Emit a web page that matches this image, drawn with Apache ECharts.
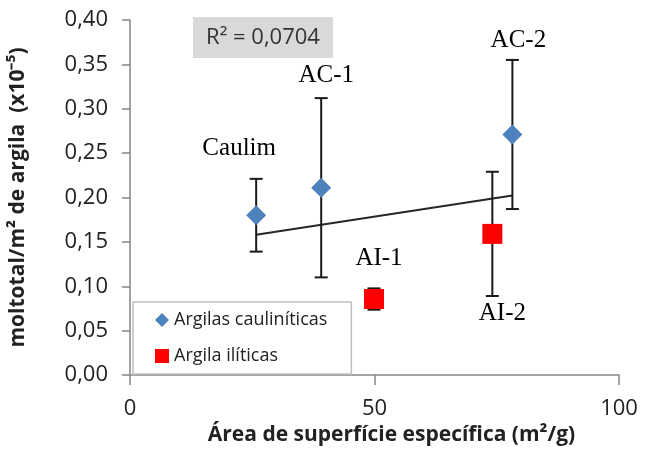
<!DOCTYPE html>
<html>
<head>
<meta charset="utf-8">
<script src="https://cdn.jsdelivr.net/npm/echarts@6/dist/echarts.min.js"></script>
<style>
  html, body { margin: 0; padding: 0; background: #fff; }
  #chart { width: 649px; height: 451px; }
</style>
</head>
<body>
<div id="chart"></div>
<script>
// Kaolinitic clays: surface area (m²/g), adsorbed mol/m² (x10^-5) and its deviation
const kaolNames = ['Caulim', 'AC-1', 'AC-2'];
const kaolArea = [25.8, 39.1, 78.2];
const kaolValue = [0.18, 0.211, 0.271];
const kaolErr = [0.041, 0.101, 0.084];

// Illitic clays
const illiNames = ['AI-1', 'AI-2'];
const illiArea = [49.9, 74.1];
const illiValue = [0.0856, 0.159];
const illiErr = [0.012, 0.07];

// Axis ticks and annotation text
const yTicks = [0, 0.05, 0.10, 0.15, 0.20, 0.25, 0.30, 0.35, 0.40];
const xTicks = [0, 50, 100];
const rSquaredText = 'R² = 0,0704';
const legendNames = ['Argilas cauliníticas', 'Argila ilíticas'];

// Where each point's name sits relative to its marker
const labelOffsets = {
  'Caulim': [-17, -67],
  'AC-1': [5, -112],
  'AC-2': [6, -94],
  'AI-1': [5, -41],
  'AI-2': [10, 80]
};

// Linear trend fitted over every sample
const allX = kaolArea.concat(illiArea);
const allY = kaolValue.concat(illiValue);
const n = allX.length;
const mx = allX.reduce((a, b) => a + b, 0) / n;
const my = allY.reduce((a, b) => a + b, 0) / n;
let sxy = 0, sxx = 0;
for (let i = 0; i < n; i++) {
  sxy += (allX[i] - mx) * (allY[i] - my);
  sxx += (allX[i] - mx) * (allX[i] - mx);
}
const slope = sxy / sxx;
const intercept = my - slope * mx;
const xMin = Math.min.apply(null, allX);
const xMax = Math.max.apply(null, allX);
const trendData = [[xMin, intercept + slope * xMin], [xMax, intercept + slope * xMax]];

function pointData(names, xs, ys) {
  return names.map((nm, i) => ({
    name: nm,
    value: [xs[i], ys[i]],
    label: { offset: labelOffsets[nm] }
  }));
}
function errData(xs, ys, es) {
  return xs.map((x, i) => [x, ys[i] - es[i], ys[i] + es[i]]);
}

function renderErrorBar(params, api) {
  const x = api.value(0);
  const lo = api.coord([x, api.value(1)]);
  const hi = api.coord([x, api.value(2)]);
  const cap = 6.5;
  const style = { stroke: '#1a1a1a', lineWidth: 2 };
  return {
    type: 'group',
    children: [
      { type: 'line', shape: { x1: lo[0], y1: lo[1], x2: hi[0], y2: hi[1] }, style: style },
      { type: 'line', shape: { x1: lo[0] - cap, y1: lo[1], x2: lo[0] + cap, y2: lo[1] }, style: style },
      { type: 'line', shape: { x1: hi[0] - cap, y1: hi[1], x2: hi[0] + cap, y2: hi[1] }, style: style }
    ]
  };
}

const labelStyle = {
  show: true,
  position: 'inside',
  formatter: '{b}',
  fontFamily: 'Liberation Serif',
  fontSize: 25,
  color: '#000'
};

const axisGray = '#868686';
const sansFont = 'Open Sans';

const chart = echarts.init(document.getElementById('chart'));
chart.setOption({
  animation: false,
  backgroundColor: '#fff',
  grid: { left: 128, right: 30, top: 20, height: 360, containLabel: false },
  xAxis: {
    type: 'value',
    min: xTicks[0],
    max: xTicks[xTicks.length - 1],
    interval: xTicks[1] - xTicks[0],
    axisLine: { lineStyle: { color: axisGray, width: 1.5 } },
    axisTick: { show: true, inside: false, length: 10, lineStyle: { color: axisGray, width: 1.5 } },
    splitLine: { show: false },
    axisLabel: { fontFamily: sansFont, fontSize: 22, color: '#222', margin: 23 },
    name: 'Área de superfície específica (m²/g)',
    nameLocation: 'middle',
    nameGap: 50,
    nameTextStyle: { fontFamily: sansFont, fontSize: 21, fontWeight: 'bold', color: '#222', padding: [0, 0, 0, 34] }
  },
  yAxis: {
    type: 'value',
    min: yTicks[0],
    max: yTicks[yTicks.length - 1],
    interval: yTicks[1] - yTicks[0],
    axisLine: { show: true, lineStyle: { color: axisGray, width: 1.5 } },
    axisTick: { show: true, inside: false, length: 8, lineStyle: { color: axisGray, width: 1.5 } },
    splitLine: { show: false },
    axisLabel: {
      fontFamily: sansFont, fontSize: 22, color: '#222', margin: 22,
      formatter: v => v.toFixed(2).replace('.', ',')
    },
    name: 'moltotal/m² de argila  (x10⁻⁵)',
    nameLocation: 'middle',
    nameRotate: 90,
    nameGap: 93,
    nameTextStyle: { fontFamily: sansFont, fontSize: 21, fontWeight: 'bold', color: '#222', padding: [0, 0, 8, 0] }
  },
  legend: {
    orient: 'vertical',
    left: 133,
    top: 302,
    padding: [9, 24, 9, 22],
    itemGap: 18,
    itemWidth: 14,
    itemHeight: 14,
    backgroundColor: '#fff',
    borderColor: '#c0c0c0',
    borderWidth: 1.5,
    textStyle: { fontFamily: sansFont, fontSize: 18, color: '#222' },
    data: [
      { name: legendNames[0], icon: 'diamond' },
      { name: legendNames[1], icon: 'rect' }
    ]
  },
  graphic: [{
    type: 'group',
    left: 193,
    top: 17,
    children: [
      { type: 'rect', shape: { x: 0, y: 0, width: 140, height: 41 }, style: { fill: '#d9d9d9' } },
      {
        type: 'text', x: 70, y: 21,
        style: { text: rSquaredText, fontFamily: sansFont, fontSize: 22, fill: '#333', align: 'center', verticalAlign: 'middle' }
      }
    ]
  }],
  series: [
    {
      type: 'line',
      data: trendData,
      symbol: 'none',
      silent: true,
      lineStyle: { color: '#262626', width: 2 },
      z: 2
    },
    {
      type: 'custom',
      renderItem: renderErrorBar,
      data: errData(kaolArea, kaolValue, kaolErr),
      z: 3
    },
    {
      type: 'custom',
      renderItem: renderErrorBar,
      data: errData(illiArea, illiValue, illiErr),
      z: 3
    },
    {
      name: legendNames[0],
      type: 'scatter',
      symbol: 'diamond',
      symbolSize: [20, 20],
      itemStyle: { color: '#4f81bd', opacity: 1 },
      label: labelStyle,
      data: pointData(kaolNames, kaolArea, kaolValue),
      z: 4
    },
    {
      name: legendNames[1],
      type: 'scatter',
      symbol: 'rect',
      symbolSize: [20, 20],
      itemStyle: { color: '#ff0000', opacity: 1 },
      label: labelStyle,
      data: pointData(illiNames, illiArea, illiValue),
      z: 4
    }
  ]
});
</script>
</body>
</html>
